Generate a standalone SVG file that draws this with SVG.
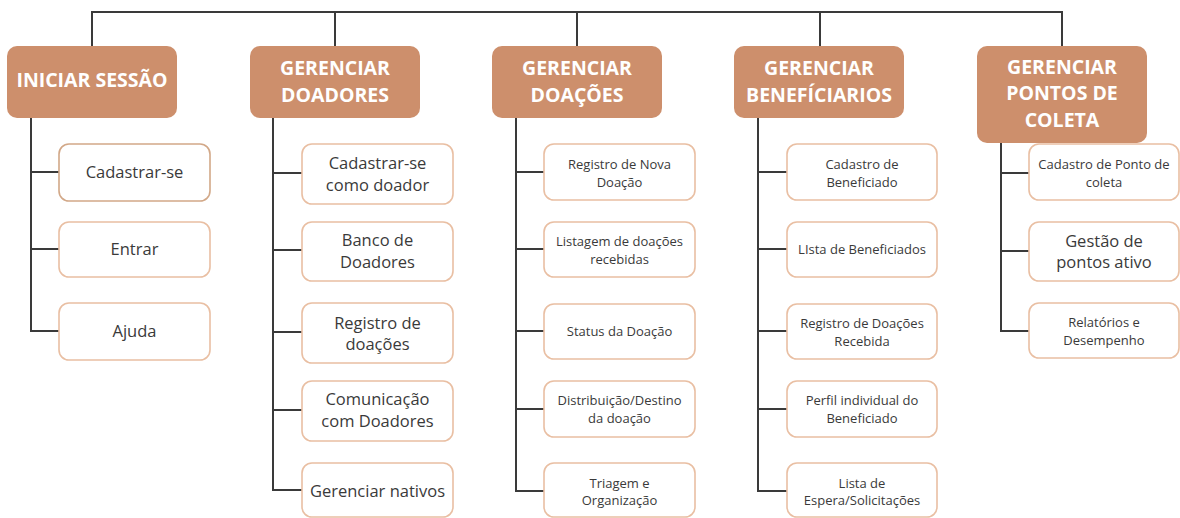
<svg xmlns="http://www.w3.org/2000/svg" width="1180" height="518" viewBox="0 0 1180 518">
<style>
.hdr{fill:#CD8F6C;}
.ht{fill:#ffffff;font-family:"Open Sans","Liberation Sans",sans-serif;font-weight:700;font-size:19.5px;text-anchor:middle;}
.box{fill:#ffffff;stroke:#E9BFA3;stroke-width:1.6;}
.t{fill:#3a3a3a;font-family:"Open Sans","Liberation Sans",sans-serif;font-size:16.5px;text-anchor:middle;}
.s{fill:#3a3a3a;font-family:"Open Sans","Liberation Sans",sans-serif;font-size:13px;text-anchor:middle;}
.ln{fill:none;stroke:#3a3a3a;stroke-width:2;}
</style>
<rect width="1180" height="518" fill="#ffffff"/>
<g id="connectors" class="ln">
<path d="M92 46 V12 H1062 V46"/>
<path d="M335 12 V46 M577 12 V46 M820 12 V46"/>
<path d="M31 118 V331 H59 M31 172 H59 M31 249 H59"/>
<path d="M273 118 V490 H302 M273 173 H302 M273 250 H302 M273 332 H302 M273 410 H302"/>
<path d="M516 118 V491 H544 M516 172 H544 M516 249 H544 M516 331 H544 M516 409 H544"/>
<path d="M758 118 V491 H787 M758 172 H787 M758 249 H787 M758 331 H787 M758 409 H787"/>
<path d="M1001 143 V331 H1029 M1001 173 H1029 M1001 251 H1029"/>
</g>
<g id="h1"><rect class="hdr" x="7" y="46" width="170" height="72" rx="10"/><text class="ht" x="92" y="87">INICIAR SESSÃO</text></g>
<g id="h2"><rect class="hdr" x="250" y="46" width="170" height="72" rx="10"/><text class="ht" x="335" y="75">GERENCIAR</text><text class="ht" x="335" y="102">DOADORES</text></g>
<g id="h3"><rect class="hdr" x="492" y="46" width="170" height="72" rx="10"/><text class="ht" x="577" y="75">GERENCIAR</text><text class="ht" x="577" y="102">DOAÇÕES</text></g>
<g id="h4"><rect class="hdr" x="734" y="46" width="170" height="72" rx="10"/><text class="ht" x="819" y="75">GERENCIAR</text><text class="ht" x="819" y="102">BENEFÍCIARIOS</text></g>
<g id="h5"><rect class="hdr" x="977" y="46" width="170" height="97" rx="10"/><text class="ht" x="1062" y="74">GERENCIAR</text><text class="ht" x="1062" y="100">PONTOS DE</text><text class="ht" x="1062" y="127">COLETA</text></g>

<g id="c1r1"><rect class="box" x="59" y="144" width="151" height="57" rx="10" style="stroke:#D2A888"/><text class="t" x="134.5" y="177.8">Cadastrar-se</text></g>
<g id="c1r2"><rect class="box" x="59" y="222" width="151" height="55" rx="10"/><text class="t" x="134.5" y="254.8">Entrar</text></g>
<g id="c1r3"><rect class="box" x="59" y="303" width="151" height="57" rx="10"/><text class="t" x="134.5" y="336.8">Ajuda</text></g>

<g id="c2r1"><rect class="box" x="302" y="144" width="151" height="60" rx="10"/><text class="t" x="377.5" y="168.8">Cadastrar-se</text><text class="t" x="377.5" y="190.8">como doador</text></g>
<g id="c2r2"><rect class="box" x="302" y="222" width="151" height="59" rx="10"/><text class="t" x="377.5" y="245.8">Banco de</text><text class="t" x="377.5" y="267.8">Doadores</text></g>
<g id="c2r3"><rect class="box" x="302" y="303" width="151" height="60" rx="10"/><text class="t" x="377.5" y="328.8">Registro de</text><text class="t" x="377.5" y="349.8">doações</text></g>
<g id="c2r4"><rect class="box" x="302" y="381" width="151" height="60" rx="10"/><text class="t" x="377.5" y="404.8">Comunicação</text><text class="t" x="377.5" y="426.8">com Doadores</text></g>
<g id="c2r5"><rect class="box" x="302" y="463" width="151" height="54" rx="10"/><text class="t" x="377.5" y="496.8">Gerenciar nativos</text></g>

<g id="c3r1"><rect class="box" x="544" y="144" width="151" height="56" rx="10"/><text class="s" x="619.5" y="168.5">Registro de Nova</text><text class="s" x="619.5" y="186.5">Doação</text></g>
<g id="c3r2"><rect class="box" x="544" y="222" width="151" height="55" rx="10"/><text class="s" x="619.5" y="245.5">Listagem de doações</text><text class="s" x="619.5" y="263.5">recebidas</text></g>
<g id="c3r3"><rect class="box" x="544" y="304" width="151" height="55" rx="10"/><text class="s" x="619.5" y="335.5">Status da Doação</text></g>
<g id="c3r4"><rect class="box" x="544" y="381" width="151" height="56" rx="10"/><text class="s" x="619.5" y="404.5">Distribuição/Destino</text><text class="s" x="619.5" y="422.5">da doação</text></g>
<g id="c3r5"><rect class="box" x="544" y="463" width="151" height="54" rx="10"/><text class="s" x="619.5" y="487.5">Triagem e</text><text class="s" x="619.5" y="504.5">Organização</text></g>

<g id="c4r1"><rect class="box" x="787" y="144" width="150" height="56" rx="10"/><text class="s" x="862" y="168.5">Cadastro de</text><text class="s" x="862" y="186.5">Beneficiado</text></g>
<g id="c4r2"><rect class="box" x="787" y="222" width="150" height="55" rx="10"/><text class="s" x="862" y="253.5">LIsta de Beneficiados</text></g>
<g id="c4r3"><rect class="box" x="787" y="304" width="150" height="55" rx="10"/><text class="s" x="862" y="327.5">Registro de Doações</text><text class="s" x="862" y="345.5">Recebida</text></g>
<g id="c4r4"><rect class="box" x="787" y="381" width="150" height="56" rx="10"/><text class="s" x="862" y="404.5">Perfil individual do</text><text class="s" x="862" y="422.5">Beneficiado</text></g>
<g id="c4r5"><rect class="box" x="787" y="463" width="150" height="54" rx="10"/><text class="s" x="862" y="487.5">Lista de</text><text class="s" x="862" y="504.5">Espera/Solicitações</text></g>

<g id="c5r1"><rect class="box" x="1029" y="144" width="150" height="56" rx="10"/><text class="s" x="1104" y="168.5">Cadastro de Ponto de</text><text class="s" x="1104" y="186.5">coleta</text></g>
<g id="c5r2"><rect class="box" x="1029" y="222" width="150" height="59" rx="10"/><text class="t" x="1104" y="246.8">Gestão de</text><text class="t" x="1104" y="267.8">pontos ativo</text></g>
<g id="c5r3"><rect class="box" x="1029" y="303" width="150" height="55" rx="10"/><text class="s" x="1104" y="326.5">Relatórios e</text><text class="s" x="1104" y="344.5">Desempenho</text></g>
</svg>
